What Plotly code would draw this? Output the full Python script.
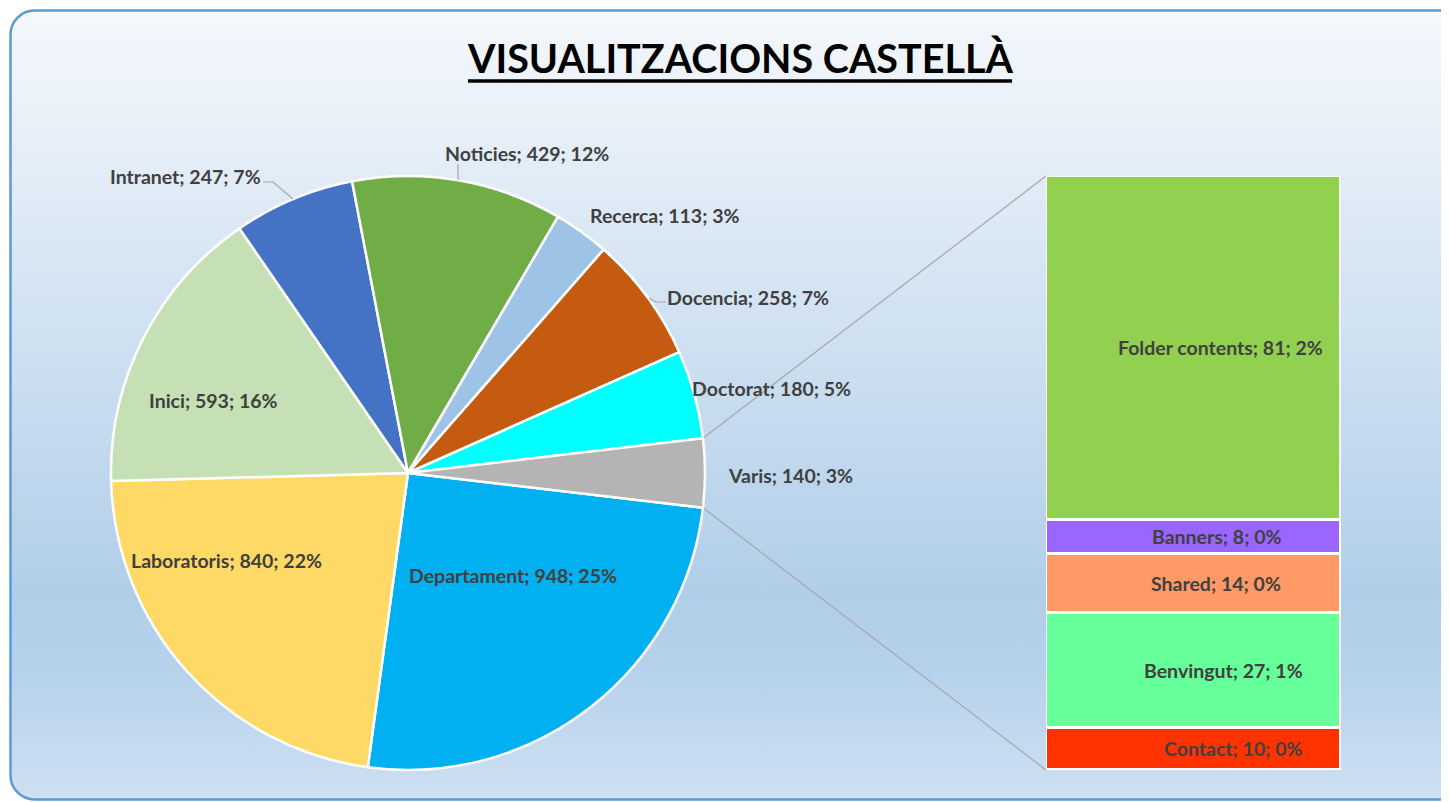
import base64
import math
import plotly.graph_objects as go

W, H = 1449, 802
PAGE_PAD = 8            # the page body margin the figure sits inside
FW, FH = W, H           # figure overflows the window slightly, like the source crop

# main pie, clockwise starting below the "Varis" slice
pie_labels = ['Departament', 'Laboratoris', 'Inici', 'Intranet', 'Noticies',
              'Recerca', 'Docencia', 'Doctorat', 'Varis']
pie_values = [948, 840, 593, 247, 429, 113, 258, 180, 140]
pie_pcts = ['25%', '22%', '16%', '7%', '12%', '3%', '7%', '5%', '3%']
pie_colors = ['#00b0f0', '#ffd966', '#c5e0b4', '#4472c4', '#70ad47',
              '#9dc3e6', '#c55a11', '#00ffff', '#b4b4b4']

# breakdown of "Varis", stacked bottom to top
bar_labels = ['Contact', 'Benvingut', 'Shared', 'Banners', 'Folder contents']
bar_values = [10, 27, 14, 8, 81]
bar_pcts = ['0%', '1%', '0%', '0%', '2%']
bar_colors = ['#ff3300', '#66ff99', '#ff9966', '#9966ff', '#92d050']

FONT = 'Lato'
LABEL_SIZE = 19.5
LABEL_COLOR = '#404040'
LINE_GREY = '#a6a6a6'


# page pixel -> paper coordinates
def px(x):
    return (x - PAGE_PAD) / FW


def py(y):
    return 1 - (y - PAGE_PAD) / FH


# layout geometry (page pixels)
PIE_CX, PIE_CY, PIE_R = 408, 473, 297
BAR_X0, BAR_X1, BAR_TOP, BAR_BOT = 1046, 1341, 176, 770

# label centres for the pie (page pixels), same order as pie_labels
pie_label_pos = [(513, 575), (227, 560), (213, 400), (185, 176), (527, 153),
                 (664, 215), (748, 297), (772, 388), (790, 475)]
# horizontal offset of the bar labels from the bar centre
bar_label_shift = [40, 30, 22, 23, 27]

total = sum(pie_values)
other_angle = pie_values[-1] / total * 360
rotation = 90 + other_angle / 2

fig = go.Figure()

fig.add_trace(go.Pie(labels=pie_labels, values=pie_values, sort=False,
                     direction='clockwise', rotation=rotation,
                     marker=dict(colors=pie_colors, line=dict(color='white', width=2.5)),
                     textinfo='none', hoverinfo='label+value', showlegend=False,
                     domain=dict(x=[px(PIE_CX - PIE_R), px(PIE_CX + PIE_R)],
                                 y=[py(PIE_CY + PIE_R), py(PIE_CY - PIE_R)])))

for lab, val, col in zip(bar_labels, bar_values, bar_colors):
    fig.add_trace(go.Bar(x=[0], y=[val], name=lab, width=1,
                         marker=dict(color=col, line=dict(color='white', width=3)),
                         cliponaxis=False, showlegend=False,
                         hoverinfo='name+y'))


# connector lines from the "Varis" slice edges to the bar corners
def edge_point(angle_deg):
    a = math.radians(angle_deg)
    return px(PIE_CX + PIE_R * math.sin(a)), py(PIE_CY - PIE_R * math.cos(a))


shapes = []
x_top, y_top = edge_point(90 - other_angle / 2)
x_bot, y_bot = edge_point(90 + other_angle / 2)
shapes.append(dict(type='line', xref='paper', yref='paper', x0=x_top, y0=y_top,
                   x1=px(BAR_X0), y1=py(BAR_TOP), line=dict(color=LINE_GREY, width=1.2),
                   layer='below'))
shapes.append(dict(type='line', xref='paper', yref='paper', x0=x_bot, y0=y_bot,
                   x1=px(BAR_X0), y1=py(BAR_BOT), line=dict(color=LINE_GREY, width=1.2),
                   layer='below'))

# leader lines for the outside labels
leaders = [
    [(263, 182), (273, 182), (293, 199)],   # Intranet
    [(458, 164), (458, 180)],               # Noticies
    [(649, 298), (656, 302), (666, 302)],   # Docencia
]
for pts in leaders:
    path = 'M ' + ' L '.join('{:.5f},{:.5f}'.format(px(x), py(y)) for x, y in pts)
    shapes.append(dict(type='path', xref='paper', yref='paper', path=path,
                       line=dict(color=LINE_GREY, width=1.2)))

# title underline
shapes.append(dict(type='line', xref='paper', yref='paper', x0=px(468), x1=px(1012),
                   y0=py(81), y1=py(81), line=dict(color='black', width=3.5)))

annotations = [dict(text='<b>VISUALITZACIONS CASTELLÀ</b>', x=px(740), y=py(57),
                    xref='paper', yref='paper', showarrow=False,
                    xanchor='center', yanchor='middle',
                    font=dict(family=FONT, size=39.5, color='black'))]

for (lx, ly), lab, val, pct in zip(pie_label_pos, pie_labels, pie_values, pie_pcts):
    annotations.append(dict(text='<b>{}; {}; {}</b>'.format(lab, val, pct),
                            x=px(lx), y=py(ly), xref='paper', yref='paper',
                            showarrow=False, xanchor='center', yanchor='middle',
                            font=dict(family=FONT, size=LABEL_SIZE, color=LABEL_COLOR)))

cum = 0
for lab, val, pct, shift in zip(bar_labels, bar_values, bar_pcts, bar_label_shift):
    annotations.append(dict(text='<b>{}; {}; {}</b>'.format(lab, val, pct),
                            x=0, y=cum + val / 2, xref='x', yref='y', xshift=shift,
                            showarrow=False, xanchor='center', yanchor='middle',
                            font=dict(family=FONT, size=LABEL_SIZE, color=LABEL_COLOR)))
    cum += val

# gradient background with rounded border (page y 10..800, x from 10 past the right edge)
svg = '''<svg xmlns="http://www.w3.org/2000/svg" width="{w}" height="{h}" viewBox="0 0 {w} {h}" preserveAspectRatio="none">
<defs><linearGradient id="g" x1="0" y1="0" x2="0" y2="1">
<stop offset="0" stop-color="#f5f8fc"/>
<stop offset="0.74" stop-color="#b1cee9"/>
<stop offset="0.83" stop-color="#b5d1eb"/>
<stop offset="1" stop-color="#cee0f2"/>
</linearGradient></defs>
<rect x="2.5" y="2.5" width="1480" height="789" rx="24" ry="24" fill="url(#g)" stroke="#5b9bd5" stroke-width="2.5"/>
</svg>'''.format(w=FW, h=FH)
bg_src = 'data:image/svg+xml;base64,' + base64.b64encode(svg.encode('utf-8')).decode('ascii')

fig.update_layout(
    width=FW, height=FH,
    margin=dict(l=0, r=0, t=0, b=0),
    paper_bgcolor='white',
    plot_bgcolor='rgba(0,0,0,0)',
    barmode='stack', bargap=0,
    xaxis=dict(domain=[px(BAR_X0), px(BAR_X1)], range=[-0.5, 0.5],
               visible=False, fixedrange=True),
    yaxis=dict(domain=[py(BAR_BOT), py(BAR_TOP)], range=[0, sum(bar_values)],
               visible=False, fixedrange=True),
    shapes=shapes,
    annotations=annotations,
    images=[dict(source=bg_src, xref='paper', yref='paper', x=0, y=1,
                 sizex=1, sizey=1, sizing='stretch', layer='below',
                 xanchor='left', yanchor='top')],
)

fig.write_html('out.html')
